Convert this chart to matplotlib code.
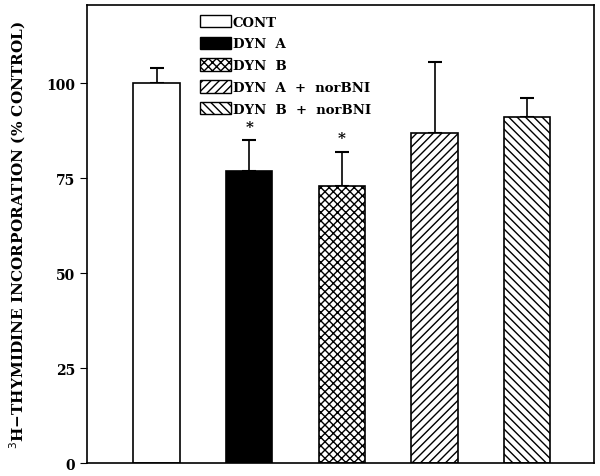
import numpy as np
import matplotlib.pyplot as plt
from matplotlib.patches import Patch

labels = ['CONT', 'DYN  A', 'DYN  B', 'DYN  A  +  norBNI', 'DYN  B  +  norBNI']
values = [100, 77, 73, 87, 91]
errors = [4, 8, 9, 18.5, 5]
hatches = ['', '', 'xxxx', '////', '\\\\\\\\']
colors = ['white', 'black', 'white', 'white', 'white']
signif = [False, True, True, False, False]

plt.rcParams['font.family'] = 'DejaVu Serif'
plt.rcParams['hatch.linewidth'] = 1.0

fig = plt.figure(figsize=(6, 4.77), dpi=100)
ax = fig.add_axes([0.145, 0.027, 0.845, 0.96])

x = np.arange(1, 6)
bars = ax.bar(x, values, width=0.5, color=colors, edgecolor='black',
              hatch=hatches, linewidth=1.2, zorder=2)
ax.errorbar(x, values, yerr=[np.zeros(5), errors], fmt='none', ecolor='black',
            elinewidth=1.2, capsize=5, capthick=1.5, zorder=1)

for xi, v, e, s in zip(x, values, errors, signif):
    if s:
        ax.text(xi, v + e + 5.3, '*', ha='center', va='top', fontsize=11, fontweight='bold')

ax.set_xlim(0.25, 5.72)
ax.set_ylim(0, 120.5)
ax.set_xticks([])
ax.set_yticks([0, 25, 50, 75, 100])
ax.tick_params(axis='y', direction='out', length=5, labelsize=10)
for t in ax.get_yticklabels():
    t.set_fontweight('bold')
for sp in ax.spines.values():
    sp.set_linewidth(1.2)

ax.set_ylabel('$^{3}$H\u2212THYMIDINE INCORPORATION (% CONTROL)', fontsize=11,
              fontweight='bold', labelpad=13)

handles = [Patch(facecolor=c, edgecolor='black', hatch=h, linewidth=1.0)
           for c, h in zip(colors, hatches)]
ax.legend(handles, labels, loc='upper left', bbox_to_anchor=(0.2, 1.005),
          frameon=False, handlelength=2.3, handleheight=1.1, handletextpad=0.15,
          labelspacing=0.6, prop={'size': 9.5, 'weight': 'bold'})

fig.savefig('out.png', dpi=100)
